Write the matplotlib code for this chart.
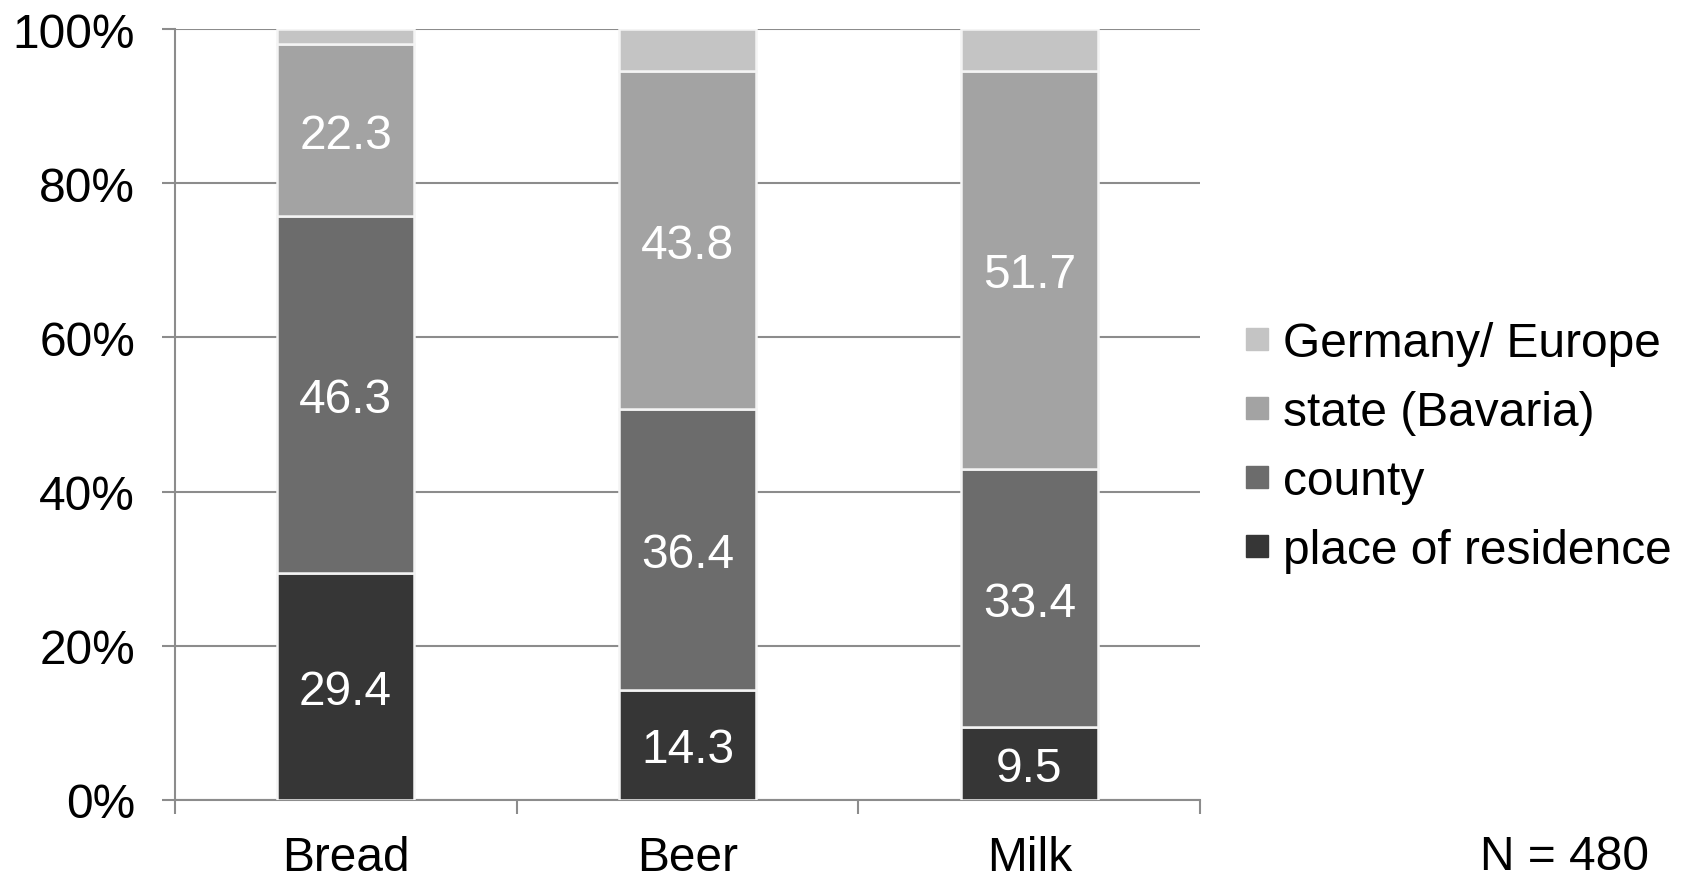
import matplotlib
matplotlib.use("Agg")
import matplotlib.pyplot as plt
from matplotlib.lines import Line2D
import numpy as np

plt.rcParams['font.family'] = ['Liberation Sans', 'DejaVu Sans']

products = ["Bread", "Beer", "Milk"]
series_names = ["place of residence", "county", "state (Bavaria)", "Germany/ Europe"]
residence = [29.4, 14.3, 9.5]
county = [46.3, 36.4, 33.4]
state = [22.3, 43.8, 51.7]
germany_europe = [2.0, 5.5, 5.4]
y_ticks = [0, 20, 40, 60, 80, 100]
y_tick_labels = ["0%", "20%", "40%", "60%", "80%", "100%"]
sample_note = "N = 480"

colors = ["#363636", "#6c6c6c", "#a3a3a3", "#c4c4c4"]
grid_color = "#8c8c8c"
fs = 34.5

fig = plt.figure(figsize=(16.91, 8.78), dpi=100)
ax = fig.add_axes([0.1033, 0.0877, 0.6065, 0.8781])

x = np.arange(len(products))
bottom = np.zeros(len(products))
series = [residence, county, state, germany_europe]
labelled = [True, True, True, False]
for vals, col, name, lab in zip(series, colors, series_names, labelled):
    vals = np.array(vals)
    ax.bar(x, vals, width=0.4, bottom=bottom, color=col,
           edgecolor="#f4f4f4", linewidth=1.8, label=name, zorder=3)
    if lab:
        for xi, b, v in zip(x, bottom, vals):
            ax.text(xi, b + v / 2, f"{v:.1f}", ha="center", va="center_baseline",
                    color="white", fontsize=fs, zorder=4)
    bottom += vals

ax.set_xlim(-0.5, 2.5)
ax.set_ylim(0, 100)

# gridlines and axes styling
ax.set_yticks(y_ticks)
ax.set_yticklabels(y_tick_labels, fontsize=fs)
ax.yaxis.grid(True, color=grid_color, linewidth=1.5, zorder=0)
ax.set_axisbelow(True)
ax.tick_params(axis="y", direction="out", length=9.4, width=1.5,
               color=grid_color, pad=19, labelsize=fs)

ax.set_xticks(x)
ax.set_xticklabels(products, fontsize=fs)
ax.set_xticks([-0.5, 0.5, 1.5, 2.5], minor=True)
ax.tick_params(axis="x", which="major", length=0, pad=25, labelsize=fs)
ax.tick_params(axis="x", which="minor", direction="out", length=10,
               width=1.5, color=grid_color)

for side in ["top", "right"]:
    ax.spines[side].set_visible(False)
for side in ["left", "bottom"]:
    ax.spines[side].set_color(grid_color)
    ax.spines[side].set_linewidth(1.5)

# legend, top entry is the top stack segment
handles = [Line2D([0], [0], marker="s", linestyle="none", markersize=16,
                  markerfacecolor=c, markeredgecolor=c)
           for c in colors[::-1]]
fig.legend(handles, series_names[::-1], loc="center left",
           bbox_to_anchor=(0.736, 0.490), bbox_transform=fig.transFigure,
           frameon=False, fontsize=fs, handlelength=0.5, handletextpad=0.3,
           labelspacing=0.5, borderpad=0, borderaxespad=0)

fig.text(0.925, 1 - 853 / 878, sample_note, ha="center", va="center_baseline",
         fontsize=fs)

fig.savefig("out.png", dpi=100)
